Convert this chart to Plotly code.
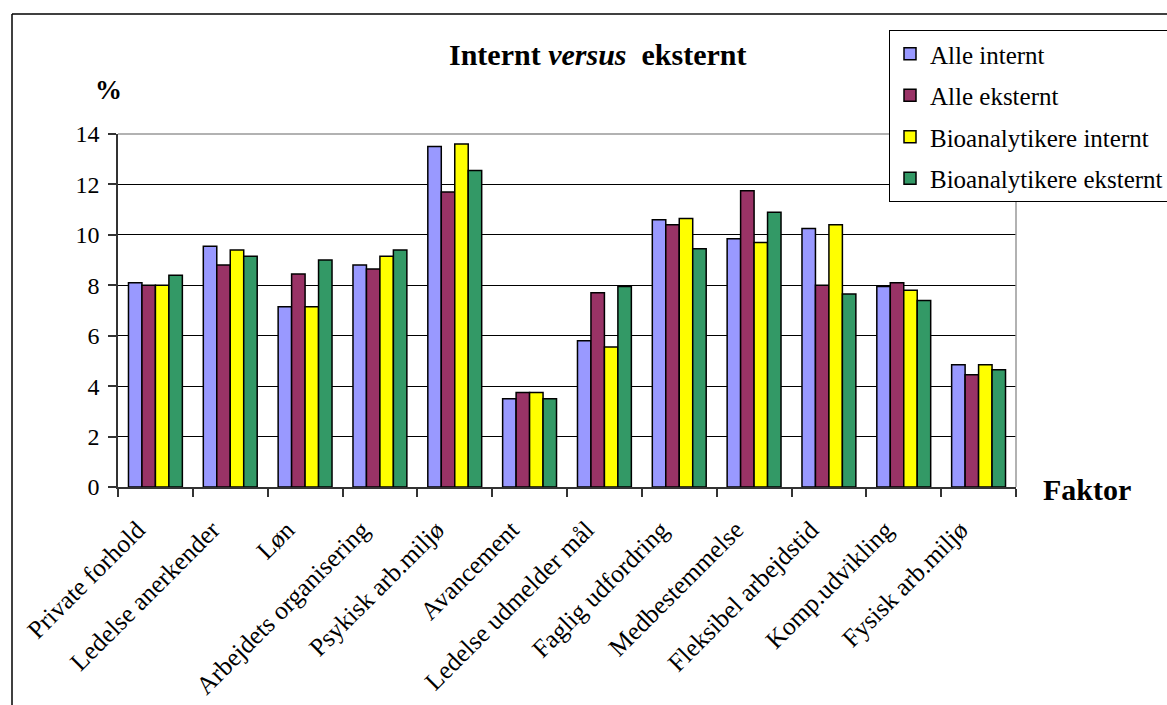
import plotly.graph_objects as go

categories = ["Private forhold", "Ledelse anerkender", "Løn", "Arbejdets organisering",
              "Psykisk arb.miljø", "Avancement", "Ledelse udmelder mål", "Faglig udfordring",
              "Medbestemmelse", "Fleksibel arbejdstid", "Komp.udvikling", "Fysisk arb.miljø"]
alle_internt = [8.1, 9.55, 7.15, 8.8, 13.5, 3.5, 5.8, 10.6, 9.85, 10.25, 7.95, 4.85]
alle_eksternt = [8.0, 8.8, 8.45, 8.65, 11.7, 3.75, 7.7, 10.4, 11.75, 8.0, 8.1, 4.45]
bio_internt = [8.0, 9.4, 7.15, 9.15, 13.6, 3.75, 5.55, 10.65, 9.7, 10.4, 7.8, 4.85]
bio_eksternt = [8.4, 9.15, 9.0, 9.4, 12.55, 3.5, 7.95, 9.45, 10.9, 7.65, 7.4, 4.65]

series = [
    ("Alle internt", alle_internt, "#9999FF"),
    ("Alle eksternt", alle_eksternt, "#993366"),
    ("Bioanalytikere internt", bio_internt, "#FFFF00"),
    ("Bioanalytikere eksternt", bio_eksternt, "#339966"),
]

FONT = "Liberation Serif, Times New Roman, serif"

fig = go.Figure()
for i, (name, vals, col) in enumerate(series):
    fig.add_trace(go.Bar(
        x=categories, y=vals, name=name, legendgroup=f"g{i}",
        marker=dict(color=col, line=dict(color="black", width=1.5)),
    ))

fig.update_layout(
    width=1167, height=705,
    margin=dict(l=118, r=151, t=134, b=218, autoexpand=False),
    paper_bgcolor="white", plot_bgcolor="white",
    barmode="group", bargap=0.28, bargroupgap=0,
    font=dict(family=FONT, size=24, color="black"),
    showlegend=True,
    legend=dict(
        x=(889 - 118) / 898, y=(487 - 30) / 353, xanchor="left", yanchor="top",
        bgcolor="white", bordercolor="black", borderwidth=1,
        font=dict(family=FONT, size=25, color="black"),
        tracegroupgap=6, traceorder="grouped",
    ),
    xaxis=dict(
        type="category", tickson="boundaries", ticks="outside", ticklen=8,
        tickcolor="#333333", tickwidth=1.5,
        showline=True, linecolor="#333333", linewidth=1.5,
        tickangle=-45, tickfont=dict(family=FONT, size=25.5, color="black"),
        ticklabelstandoff=16, ticklabelshift=-18,
        showgrid=False, automargin=False,
    ),
    yaxis=dict(
        range=[0, 14], dtick=2, ticks="outside", ticklen=8,
        tickcolor="#333333", tickwidth=1.5,
        showline=True, linecolor="#333333", linewidth=1.5,
        showgrid=True, gridcolor="black", gridwidth=1,
        tickfont=dict(family=FONT, size=24, color="black"),
        ticklabelstandoff=4,
        zeroline=False, automargin=False,
    ),
    annotations=[
        dict(text="<b>Internt <i>versus</i>  eksternt</b>", x=(597 - 118) / 898, y=(487 - 55) / 353,
             xref="paper", yref="paper", showarrow=False, xanchor="center", yanchor="middle",
             font=dict(family=FONT, size=30, color="black")),
        dict(text="<b>%</b>", x=(108 - 118) / 898, y=(487 - 90) / 353,
             xref="paper", yref="paper", showarrow=False, xanchor="center", yanchor="middle",
             font=dict(family=FONT, size=27, color="black")),
        dict(text="<b>Faktor</b>", x=(1087 - 118) / 898, y=(487 - 489) / 353,
             xref="paper", yref="paper", showarrow=False, xanchor="center", yanchor="middle",
             font=dict(family=FONT, size=30, color="black")),
    ],
    shapes=[
        dict(type="line", xref="paper", yref="paper", x0=0, x1=1, y0=1, y1=1,
             line=dict(color="#999999", width=1.5), layer="above"),
        dict(type="line", xref="paper", yref="paper", x0=1, x1=1, y0=0, y1=1,
             line=dict(color="#999999", width=1.5), layer="above"),
        dict(type="line", xref="paper", yref="paper", x0=(12 - 118) / 898, x1=(1167 - 118) / 898 + 0.01,
             y0=(487 - 14) / 353, y1=(487 - 14) / 353, line=dict(color="black", width=1.5)),
        dict(type="line", xref="paper", yref="paper", x0=(12 - 118) / 898, x1=(12 - 118) / 898,
             y0=(487 - 14) / 353, y1=(487 - 710) / 353, line=dict(color="black", width=1.5)),
    ],
)

fig.write_html("out.html")
